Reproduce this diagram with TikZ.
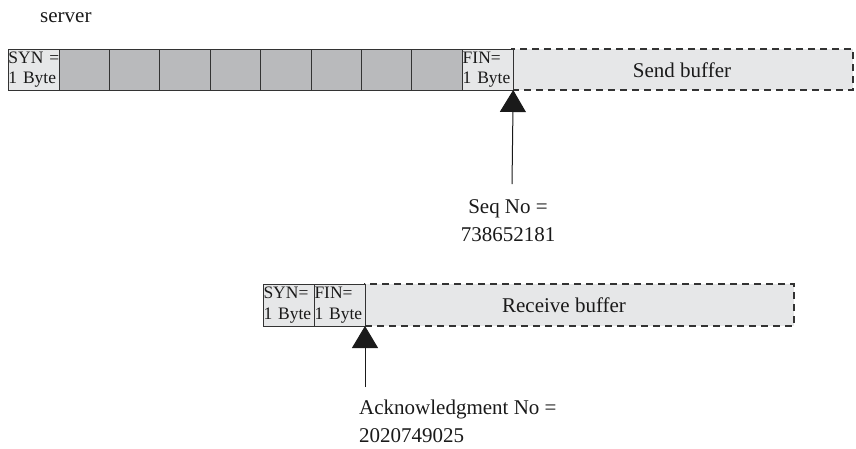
\documentclass[tikz,border=0pt]{standalone}
\usepackage{fontspec}
\setmainfont{Liberation Serif}
\usetikzlibrary{arrows.meta}
\definecolor{ink}{HTML}{1A1A1A}
\definecolor{darkcell}{HTML}{B9BABC}
\definecolor{lightcell}{HTML}{E6E7E8}
\definecolor{edge}{HTML}{333333}
\begin{document}
\begin{tikzpicture}[x=1pt,y=-1pt,
  cell/.style={draw=edge, line width=1pt, fill=darkcell, minimum width=50.4pt,
    minimum height=41pt, inner sep=0pt, outer sep=0pt, anchor=north west},
  bytecell/.style={cell, fill=lightcell, font=\fontsize{17.5}{20.5}\selectfont,
    align=left, text width=50pt, inner xsep=0.5pt, inner ysep=0pt, text=ink},
  buffer/.style={draw=edge, dash pattern=on 7pt off 5pt, line width=1.2pt,
    fill=lightcell, minimum height=41pt, inner sep=0pt, outer sep=0pt, anchor=north west},
  label/.style={font=\fontsize{21}{28}\selectfont, text=ink, inner sep=0pt},
  pointer/.style={draw=ink, line width=1pt, -{Triangle[width=26pt,length=22pt]}}]
\useasboundingbox (0,0) rectangle (856,448);

\node[label, anchor=west] (server) at (40,18) {server};

% top row: send side
\node[buffer, minimum width=341pt] (sbuf) at (512,49) {};
\node[label] (sbuftext) at (682,70) {Send buffer};
\node[bytecell] (ssyn) at (8,49) {\mbox{SYN =}\\\mbox{1 Byte}};
\foreach \i in {1,...,8}{
  \node[cell] (g\i) at ({59+50.4*(\i-1)},49) {};
}
\node[bytecell] (sfin) at (462.2,49) {\mbox{FIN=}\\\mbox{1 Byte}};

\coordinate (seqtop) at (512,184);
\node[label, align=center] (seq) at (508,221) {Seq No =\\738652181};
\draw[pointer] (seqtop) -- (sfin.south east);

% bottom row: receive side
\node[buffer, minimum width=429pt, minimum height=42pt] (rbuf) at (365,284) {};
\node[label] (rbuftext) at (564,305) {Receive buffer};
\node[bytecell, minimum height=42pt] (rsyn) at (263,284) {\mbox{SYN=}\\\mbox{1 Byte}};
\node[bytecell, minimum height=42pt] (rfin) at (314,284) {\mbox{FIN=}\\\mbox{1 Byte}};

\coordinate (acktop) at (365,387);
\node[label, align=left, anchor=west] (ack) at (359,421) {Acknowledgment No =\\2020749025};
\draw[pointer] (acktop) -- (rfin.south east);
\end{tikzpicture}
\end{document}
